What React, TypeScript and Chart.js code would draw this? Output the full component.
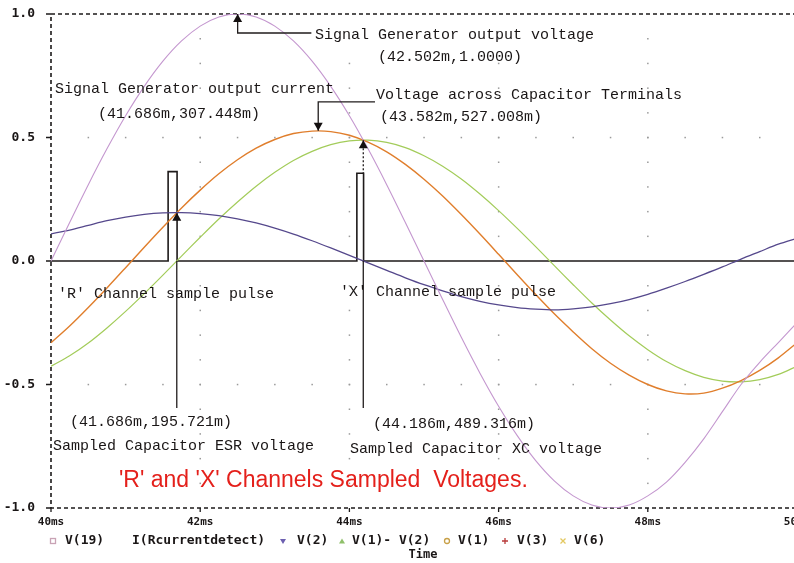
import React, { useEffect, useRef } from "react";
import { Chart, registerables } from "chart.js";

Chart.register(...registerables);

// ---- data ----
const timeMs = [
  40, 40.25, 40.5, 40.75, 41, 41.25, 41.5, 41.75, 42, 42.25, 42.5, 42.75, 43, 43.25,
  43.5, 43.75, 44, 44.25, 44.5, 44.75, 45, 45.25, 45.5, 45.75, 46, 46.25, 46.5, 46.75,
  47, 47.25, 47.5, 47.75, 48, 48.25, 48.5, 48.75, 49, 49.25, 49.5, 49.75, 50,
];
// Signal generator output voltage
const sigGenVoltage = [
  0, 0.156, 0.309, 0.454, 0.588, 0.707, 0.809, 0.891, 0.951, 0.988, 1.0, 0.988, 0.951, 0.891,
  0.809, 0.707, 0.588, 0.454, 0.309, 0.156, 0, -0.156, -0.309, -0.454, -0.588, -0.707, -0.809,
  -0.891, -0.951, -0.988, -1.0, -0.988, -0.951, -0.895, -0.815, -0.72, -0.61, -0.5, -0.41,
  -0.33, -0.25,
];
// Current detect (ESR) trace
const currentDetect = [
  0.11, 0.125, 0.144, 0.163, 0.178, 0.189, 0.195, 0.196, 0.192, 0.184, 0.171, 0.154, 0.133,
  0.109, 0.082, 0.053, 0.023, -0.008, -0.038, -0.068, -0.096, -0.121, -0.144, -0.163, -0.178,
  -0.189, -0.195, -0.198, -0.194, -0.186, -0.173, -0.156, -0.135, -0.11, -0.083, -0.054,
  -0.024, 0.008, 0.038, 0.068, 0.092,
];
// Voltage across capacitor terminals
const capVoltage = [
  -0.331, -0.263, -0.188, -0.109, -0.027, 0.056, 0.137, 0.215, 0.287, 0.353, 0.41, 0.457,
  0.492, 0.516, 0.526, 0.524, 0.509, 0.481, 0.442, 0.391, 0.331, 0.263, 0.188, 0.109, 0.027,
  -0.056, -0.137, -0.215, -0.287, -0.355, -0.414, -0.462, -0.5, -0.526, -0.538, -0.535,
  -0.515, -0.484, -0.443, -0.392, -0.331,
];
// V(1)-V(2) : capacitor XC voltage
const xcVoltage = [
  -0.426, -0.384, -0.332, -0.271, -0.204, -0.132, -0.057, 0.02, 0.096, 0.17, 0.239, 0.303,
  0.359, 0.407, 0.444, 0.471, 0.486, 0.489, 0.48, 0.459, 0.426, 0.384, 0.332, 0.271, 0.204,
  0.132, 0.057, -0.02, -0.096, -0.17, -0.239, -0.303, -0.359, -0.407, -0.444, -0.471, -0.486,
  -0.489, -0.48, -0.459, -0.426,
];
// Sample pulses
const pulseTimeMs = [40, 41.57, 41.57, 41.69, 41.69, 44.1, 44.1, 44.19, 44.19, 50];
const pulseValue = [0, 0, 0.362, 0.362, 0, 0, 0.355, 0.355, 0, 0];

const xTickValues = [40, 42, 44, 46, 48, 50];
const yTickValues = [-1, -0.5, 0, 0.5, 1];

// cursor markers (time, value)
const cursorTimes = [42.502, 43.582, 41.686, 44.186];
const cursorValues = [1.0, 0.527, 0.1957, 0.4893];
const cursorDirs = ["up", "down", "up", "up"];

const legendLabels = ["V(19)", "I(Rcurrentdetect)", "V(2)", "V(1)- V(2)", "V(1)", "V(3)", "V(6)"];
const legendMarkers = ["rect", "none", "triDown", "triUp", "circle", "plus", "cross"];

// ---- layout / style ----
const legendMarkerX = [53, 0, 283, 342, 447, 505, 563];
const legendTextX = [65, 132, 297, 352, 458, 517, 574];
const legendColors = ["#c9a3b5", "", "#6c5fb0", "#8fc06a", "#c8a048", "#b83a3a", "#e3c860"];

const connectors: { pts: number[][]; dash: number[] }[] = [
  { pts: [[42.502, 1.0], [42.502, 0.923], [43.49, 0.923]], dash: [] },
  { pts: [[43.582, 0.527], [43.582, 0.644], [44.343, 0.644]], dash: [] },
  { pts: [[44.186, 0.4893], [44.186, 0.355]], dash: [2, 2] },
  { pts: [[41.686, 0], [41.686, -0.595]], dash: [] },
  { pts: [[44.186, 0], [44.186, -0.595]], dash: [] },
];

const MONO = "'Liberation Mono', 'DejaVu Sans Mono', monospace";
const notes: { t: number; v: number; text: string }[] = [
  { t: 43.539, v: 0.915, text: "Signal Generator output voltage" },
  { t: 44.383, v: 0.826, text: "(42.502m,1.0000)" },
  { t: 40.054, v: 0.696, text: "Signal Generator output current" },
  { t: 40.63, v: 0.595, text: "(41.686m,307.448m)" },
  { t: 44.357, v: 0.672, text: "Voltage across Capacitor Terminals" },
  { t: 44.41, v: 0.583, text: "(43.582m,527.008m)" },
  { t: 40.094, v: -0.134, text: "'R' Channel sample pulse" },
  { t: 43.874, v: -0.126, text: "'X' Channel sample pulse" },
  { t: 40.255, v: -0.652, text: "(41.686m,195.721m)" },
  { t: 40.027, v: -0.749, text: "Sampled Capacitor ESR voltage" },
  { t: 44.316, v: -0.66, text: "(44.186m,489.316m)" },
  { t: 44.008, v: -0.761, text: "Sampled Capacitor XC voltage" },
];
const titleNote = { t: 40.911, v: -0.891, text: "'R' and 'X' Channels Sampled  Voltages." };

const pspicePlugin = {
  id: "pspice",
  beforeDatasetsDraw(chart: any) {
    const { ctx, chartArea: a, scales } = chart;
    const x = scales.x;
    const y = scales.y;
    ctx.save();
    // grid dots
    ctx.fillStyle = "#9a9a9a";
    for (const t of [42, 44, 46, 48]) {
      for (let i = 1; i < 20; i++) {
        if (i === 10) continue;
        const v = 1 - i * 0.1;
        ctx.fillRect(x.getPixelForValue(t) - 0.7, y.getPixelForValue(v) - 0.7, 1.5, 1.5);
      }
    }
    for (const v of [0.5, -0.5]) {
      for (let i = 1; i < 20; i++) {
        const t = 40 + i * 0.5;
        ctx.fillRect(x.getPixelForValue(t) - 0.7, y.getPixelForValue(v) - 0.7, 1.5, 1.5);
      }
    }
    // dashed frame
    ctx.strokeStyle = "#1c1a1a";
    ctx.lineWidth = 1.6;
    ctx.setLineDash([4, 3]);
    ctx.beginPath();
    ctx.moveTo(a.right, a.top);
    ctx.lineTo(a.left, a.top);
    ctx.lineTo(a.left, a.bottom);
    ctx.lineTo(a.right, a.bottom);
    ctx.stroke();
    ctx.setLineDash([]);
    // ticks
    ctx.lineWidth = 1.3;
    ctx.beginPath();
    for (const v of yTickValues) {
      const py = y.getPixelForValue(v);
      ctx.moveTo(a.left - 5, py);
      ctx.lineTo(a.left, py);
    }
    for (const t of xTickValues) {
      const px = x.getPixelForValue(t);
      ctx.moveTo(px, a.bottom);
      ctx.lineTo(px, a.bottom + 4);
    }
    ctx.stroke();
    ctx.restore();
  },
  afterDatasetsDraw(chart: any) {
    const { ctx, scales } = chart;
    const x = scales.x;
    const y = scales.y;
    const P = (t: number, v: number) => [x.getPixelForValue(t), y.getPixelForValue(v)];
    ctx.save();
    ctx.strokeStyle = "#201c1c";
    ctx.fillStyle = "#141010";
    ctx.lineWidth = 1.3;
    for (const c of connectors) {
      ctx.setLineDash(c.dash);
      ctx.beginPath();
      c.pts.forEach((p, i) => {
        const [px, py] = P(p[0], p[1]);
        if (i === 0) ctx.moveTo(px, py);
        else ctx.lineTo(px, py);
      });
      ctx.stroke();
    }
    ctx.setLineDash([]);
    cursorTimes.forEach((t, i) => {
      const [px, py] = P(t, cursorValues[i]);
      const s = cursorDirs[i] === "up" ? 1 : -1;
      ctx.beginPath();
      ctx.moveTo(px, py);
      ctx.lineTo(px - 4.5, py + s * 8);
      ctx.lineTo(px + 4.5, py + s * 8);
      ctx.closePath();
      ctx.fill();
    });
    // notes
    ctx.fillStyle = "#1a1616";
    ctx.font = `15px ${MONO}`;
    ctx.textBaseline = "middle";
    ctx.textAlign = "left";
    for (const n of notes) {
      const [px, py] = P(n.t, n.v);
      ctx.fillText(n.text, px, py);
    }
    ctx.fillStyle = "#e4201b";
    ctx.font = "23px 'Liberation Sans', Arial, sans-serif";
    const [tx, ty] = P(titleNote.t, titleNote.v);
    ctx.fillText(titleNote.text, tx, ty);
    ctx.restore();
  },
  afterDraw(chart: any) {
    const { ctx } = chart;
    ctx.save();
    const ly = 541;
    ctx.font = "bold 13px 'DejaVu Sans Mono', monospace";
    ctx.fillStyle = "#1a1616";
    ctx.textBaseline = "middle";
    ctx.textAlign = "left";
    legendLabels.forEach((lab, i) => {
      ctx.fillText(lab, legendTextX[i], ly);
      const m = legendMarkers[i];
      const mx = legendMarkerX[i];
      ctx.strokeStyle = legendColors[i];
      ctx.fillStyle = legendColors[i];
      ctx.lineWidth = 1.3;
      ctx.beginPath();
      if (m === "rect") {
        ctx.strokeRect(mx - 2.5, ly - 2.5, 5, 5);
      } else if (m === "triDown") {
        ctx.moveTo(mx - 3, ly - 2);
        ctx.lineTo(mx + 3, ly - 2);
        ctx.lineTo(mx, ly + 3);
        ctx.closePath();
        ctx.fill();
      } else if (m === "triUp") {
        ctx.moveTo(mx - 3, ly + 2.5);
        ctx.lineTo(mx + 3, ly + 2.5);
        ctx.lineTo(mx, ly - 2.5);
        ctx.closePath();
        ctx.fill();
      } else if (m === "circle") {
        ctx.arc(mx, ly, 2.5, 0, Math.PI * 2);
        ctx.stroke();
      } else if (m === "plus") {
        ctx.moveTo(mx - 3, ly);
        ctx.lineTo(mx + 3, ly);
        ctx.moveTo(mx, ly - 3);
        ctx.lineTo(mx, ly + 3);
        ctx.stroke();
      } else if (m === "cross") {
        ctx.moveTo(mx - 2.5, ly - 2.5);
        ctx.lineTo(mx + 2.5, ly + 2.5);
        ctx.moveTo(mx + 2.5, ly - 2.5);
        ctx.lineTo(mx - 2.5, ly + 2.5);
        ctx.stroke();
      }
      ctx.fillStyle = "#1a1616";
    });
    ctx.font = "bold 12px 'DejaVu Sans Mono', monospace";
    ctx.textAlign = "center";
    ctx.fillText("Time", 423, 555);
    ctx.restore();
  },
};

export default function App() {
  const ref = useRef<HTMLCanvasElement>(null);
  useEffect(() => {
    document.body.style.margin = "0";
    const canvas = ref.current!;
    const pts = (xs: number[], ys: number[]) => xs.map((t, i) => ({ x: t, y: ys[i] }));
    const chart = new Chart(canvas, {
      type: "line",
      data: {
        datasets: [
          { label: "V(19)", data: pts(timeMs, sigGenVoltage), borderColor: "#c497cf", borderWidth: 1.1, tension: 0.3, pointRadius: 0 },
          { label: "I(Rcurrentdetect)", data: pts(timeMs, currentDetect), borderColor: "#55488c", borderWidth: 1.3, tension: 0.3, pointRadius: 0 },
          { label: "V(1)", data: pts(timeMs, capVoltage), borderColor: "#e07e2c", borderWidth: 1.4, tension: 0.3, pointRadius: 0 },
          { label: "V(1)- V(2)", data: pts(timeMs, xcVoltage), borderColor: "#a3cc5a", borderWidth: 1.2, tension: 0.3, pointRadius: 0 },
          { label: "V(3)", data: pts(pulseTimeMs, pulseValue), borderColor: "#1e1a1a", borderWidth: 1.6, tension: 0, pointRadius: 0 },
        ],
      } as any,
      options: {
        animation: false,
        responsive: false,
        devicePixelRatio: 1,
        layout: { padding: { left: 0, top: 14, right: 3, bottom: 0 } },
        plugins: { legend: { display: false }, tooltip: { enabled: false }, title: { display: false } },
        scales: {
          x: {
            type: "linear",
            min: 40,
            max: 50,
            afterBuildTicks: (s: any) => {
              s.ticks = xTickValues.map((v) => ({ value: v }));
            },
            afterFit: (s: any) => {
              s.height = 55;
              s.paddingLeft = 0;
              s.paddingRight = 0;
            },
            grid: { display: false },
            border: { display: false },
            ticks: {
              autoSkip: false,
              maxRotation: 0,
              padding: 0,
              color: "#1a1616",
              font: { family: "'DejaVu Sans Mono', monospace", weight: "bold", size: 11 },
              callback: (v: any) => `${v}ms`,
            },
          },
          y: {
            type: "linear",
            min: -1,
            max: 1,
            afterBuildTicks: (s: any) => {
              s.ticks = yTickValues.map((v) => ({ value: v }));
            },
            afterFit: (s: any) => {
              s.width = 51;
              s.paddingTop = 0;
              s.paddingBottom = 0;
            },
            grid: { display: false },
            border: { display: false },
            ticks: {
              padding: 8,
              color: "#1a1616",
              font: { family: "'DejaVu Sans Mono', monospace", weight: "bold", size: 13 },
              callback: (v: any) => Number(v).toFixed(1),
            },
          },
        },
      } as any,
      plugins: [pspicePlugin],
    });
    return () => chart.destroy();
  }, []);
  return (
    <div style={{ width: 794, height: 563, overflow: "hidden", position: "relative", background: "#fff" }}>
      <canvas ref={ref} width={800} height={563} style={{ display: "block" }} />
    </div>
  );
}
